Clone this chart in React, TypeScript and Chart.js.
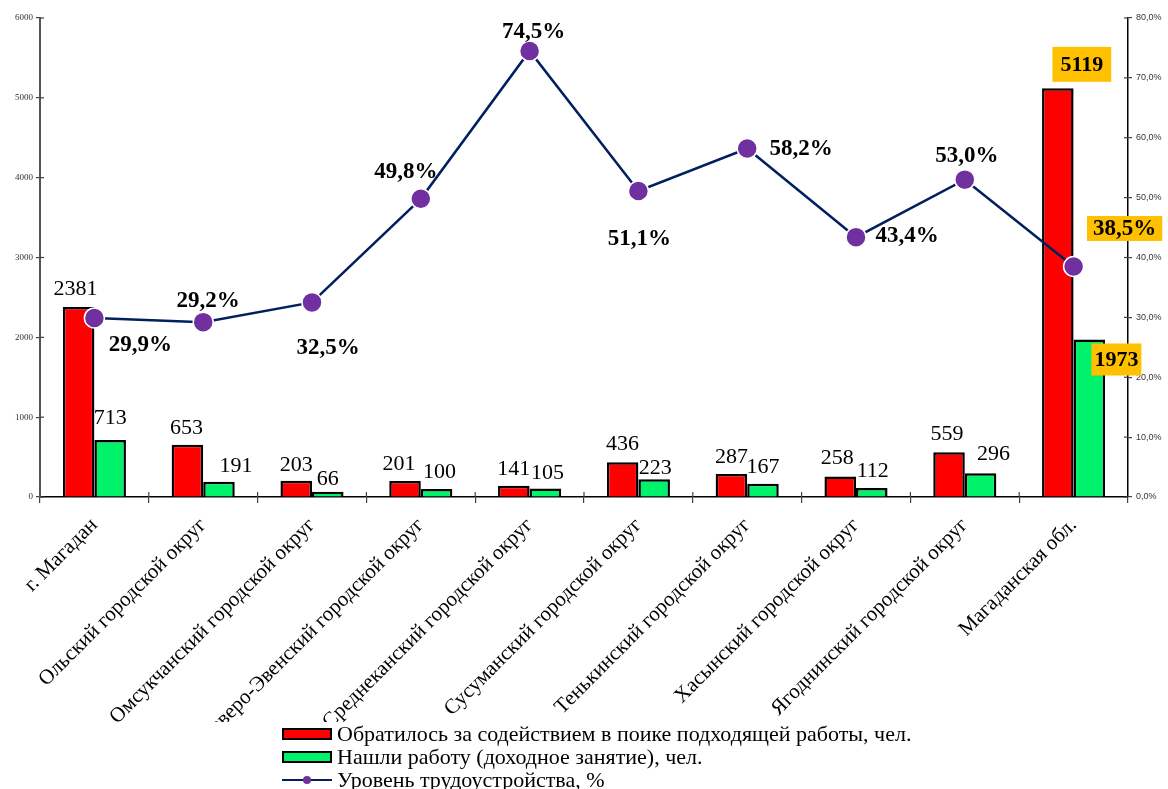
import React, { useEffect, useRef } from "react";
import { Chart, registerables } from "chart.js";

Chart.register(...registerables);

const categories = [
  "г. Магадан",
  "Ольский городской округ",
  "Омсукчанский городской округ",
  "Северо-Эвенский городской округ",
  "Среднеканский городской округ",
  "Сусуманский городской округ",
  "Тенькинский городской округ",
  "Хасынский городской округ",
  "Ягоднинский городской округ",
  "Магаданская обл.",
];

const applied = [2381, 653, 203, 201, 141, 436, 287, 258, 559, 5119];
const employed = [713, 191, 66, 100, 105, 223, 167, 112, 296, 1973];
const rate = [29.9, 29.2, 32.5, 49.8, 74.5, 51.1, 58.2, 43.4, 53.0, 38.5];

const leftTicksMax = 6000;
const rightTicksMax = 80;

const seriesNames = [
  "Обратилось за содействием в поике подходящей работы, чел.",
  "Нашли работу (доходное занятие), чел.",
  "Уровень трудоустройства, %",
];

// label placement (styling): [dx, dy] from the mark
const appliedLabelOffsets = [
  [-3, -19], [-1, -18], [0, -17], [-6, -18], [0, -18], [0, -19], [0, -18], [-3, -19], [-2, -19], [24, -24],
];
const employedLabelOffsets = [
  [0, -23], [17, -17], [0, -14], [3, -18], [2, -16], [1, -12], [0, -17], [1, -18], [13, -20], [27, 20],
];
const rateLabelOffsets = [
  [46, 26], [5, -22], [16, 45], [-15, -28], [4, -20], [1, 47], [54, 0], [51, -2], [2, -25], [51, -38],
];
const highlightIndex = 9;

const RED = "#FF0000";
const GREEN = "#00F26B";
const LINE = "#002060";
const DOT = "#7030A0";
const HIGHLIGHT = "#FFC000";
const SERIF = '"Liberation Serif", "Times New Roman", serif';

const fmtPct = (v: number) => v.toFixed(1).replace(".", ",") + "%";

const labelsPlugin = {
  id: "valueLabels",
  afterDraw(chart: any) {
    const ctx = chart.ctx as CanvasRenderingContext2D;
    ctx.save();
    ctx.textAlign = "center";
    ctx.textBaseline = "middle";

    // inner half of tick marks (ticks cross the axes)
    ctx.strokeStyle = "#404040";
    ctx.lineWidth = 1.2;
    const y = chart.scales.y;
    const y1 = chart.scales.y1;
    const area = chart.chartArea;
    y.ticks.forEach((_t: any, i: number) => {
      const py = y.getPixelForTick(i);
      ctx.beginPath();
      ctx.moveTo(area.left, py);
      ctx.lineTo(area.left + 4, py);
      ctx.stroke();
    });
    y1.ticks.forEach((_t: any, i: number) => {
      const py = y1.getPixelForTick(i);
      ctx.beginPath();
      ctx.moveTo(area.right - 4, py);
      ctx.lineTo(area.right, py);
      ctx.stroke();
    });
    const step = (area.right - area.left) / categories.length;
    for (let k = 1; k < categories.length; k++) {
      const px = area.left + k * step;
      ctx.beginPath();
      ctx.moveTo(px, area.bottom - 5);
      ctx.lineTo(px, area.bottom);
      ctx.stroke();
    }

    const drawBox = (cx: number, cy: number, w: number, h: number) => {
      ctx.fillStyle = HIGHLIGHT;
      ctx.fillRect(cx - w / 2, cy - h / 2, w, h);
    };

    // bar labels
    const barSets: [number, number[], number[][]][] = [
      [0, applied, appliedLabelOffsets],
      [1, employed, employedLabelOffsets],
    ];
    barSets.forEach(([di, vals, offs]) => {
      const meta = chart.getDatasetMeta(di);
      meta.data.forEach((el: any, i: number) => {
        const cx = el.x + offs[i][0];
        const cy = el.y + offs[i][1];
        const text = String(vals[i]);
        if (i === highlightIndex) {
          ctx.font = `bold 22px ${SERIF}`;
          const w = ctx.measureText(text).width;
          drawBox(cx, cy, w + (di === 0 ? 16 : 6), di === 0 ? 35 : 32);
        } else {
          ctx.font = `22px ${SERIF}`;
        }
        ctx.fillStyle = "#000";
        ctx.fillText(text, cx, cy + 1);
      });
    });

    // rate labels
    const lmeta = chart.getDatasetMeta(2);
    lmeta.data.forEach((el: any, i: number) => {
      const cx = el.x + rateLabelOffsets[i][0];
      const cy = el.y + rateLabelOffsets[i][1];
      const text = fmtPct(rate[i]);
      ctx.font = `bold 23px ${SERIF}`;
      if (i === highlightIndex) {
        const w = ctx.measureText(text).width;
        drawBox(cx, cy, w + 12, 25);
      }
      ctx.fillStyle = "#000";
      ctx.fillText(text, cx, cy + 1);
    });
    ctx.restore();
  },
};

export default function App() {
  const ref = useRef<HTMLCanvasElement | null>(null);

  useEffect(() => {
    if (!ref.current) return;
    const chart = new Chart(ref.current, {
      type: "bar",
      data: {
        labels: categories,
        datasets: [
          {
            type: "bar",
            label: seriesNames[0],
            data: applied,
            backgroundColor: RED,
            borderColor: "#000",
            borderWidth: 2.5,
            borderSkipped: "bottom",
            yAxisID: "y",
            order: 2,
            categoryPercentage: 0.58,
            barPercentage: 1,
          },
          {
            type: "bar",
            label: seriesNames[1],
            data: employed,
            backgroundColor: GREEN,
            borderColor: "#000",
            borderWidth: 2.5,
            borderSkipped: "bottom",
            yAxisID: "y",
            order: 2,
            categoryPercentage: 0.58,
            barPercentage: 1,
          },
          {
            type: "line",
            label: seriesNames[2],
            data: rate,
            borderColor: LINE,
            borderWidth: 2.5,
            pointRadius: 10,
            pointHoverRadius: 10,
            pointBackgroundColor: DOT,
            pointBorderColor: "#fff",
            pointBorderWidth: 1.5,
            yAxisID: "y1",
            order: 0,
            tension: 0,
          } as any,
        ],
      },
      options: {
        animation: false,
        responsive: false,
        maintainAspectRatio: false,
        layout: { padding: { top: 18, left: 0, right: 0, bottom: 0 } },
        plugins: {
          legend: { display: false },
          tooltip: { enabled: false },
        },
        scales: {
          x: {
            offset: true,
            grid: {
              display: true,
              drawOnChartArea: false,
              drawTicks: true,
              tickLength: 6,
              color: "#404040",
              lineWidth: 1.2,
              offset: true,
            },
            border: { display: true, color: "#000", width: 1.5 },
            ticks: {
              autoSkip: false,
              maxRotation: 45,
              minRotation: 45,
              padding: 10,
              color: "#000",
              font: { family: SERIF, size: 21 },
            },
            afterFit(scale: any) {
              scale.height = 225;
            },
          },
          y: {
            position: "left",
            min: 0,
            max: leftTicksMax,
            grid: {
              display: true,
              drawOnChartArea: false,
              drawTicks: true,
              tickLength: 4,
              color: "#404040",
              lineWidth: 1.2,
            },
            border: { display: true, color: "#555", width: 2 },
            ticks: {
              stepSize: 1000,
              padding: 3,
              color: "#333",
              font: { family: SERIF, size: 9 },
              callback: (v: any) => String(v),
            },
            afterFit(scale: any) {
              scale.width = 40;
            },
          },
          y1: {
            position: "right",
            min: 0,
            max: rightTicksMax,
            grid: {
              display: true,
              drawOnChartArea: false,
              drawTicks: true,
              tickLength: 4,
              color: "#404040",
              lineWidth: 1.2,
            },
            border: { display: true, color: "#000", width: 1.5 },
            ticks: {
              stepSize: 10,
              padding: 4,
              color: "#333",
              font: { family: '"Liberation Sans", Arial, sans-serif', size: 9 },
              callback: (v: any) => fmtPct(Number(v)),
            },
            afterFit(scale: any) {
              scale.width = 40;
            },
          },
        },
      },
      plugins: [labelsPlugin],
    } as any);
    return () => chart.destroy();
  }, []);

  const rowStyle: React.CSSProperties = {
    display: "flex",
    alignItems: "center",
    height: 23,
    whiteSpace: "nowrap",
  };
  const swatch = (color: string): React.CSSProperties => ({
    width: 50,
    height: 12,
    boxSizing: "border-box",
    border: "2.5px solid #000",
    background: color,
    marginRight: 5,
    flex: "none",
  });

  return (
    <div
      style={{
        position: "fixed",
        left: 0,
        top: 0,
        width: 1168,
        height: 789,
        background: "#fff",
        overflow: "hidden",
      }}
    >
      <canvas ref={ref} width={1168} height={722} style={{ display: "block", width: 1168, height: 722 }} />
      <div
        style={{
          position: "absolute",
          left: 282,
          top: 722,
          fontFamily: SERIF,
          fontSize: 22,
          color: "#000",
          lineHeight: "23px",
        }}
      >
        <div style={rowStyle}>
          <span style={swatch(RED)} />
          <span>{seriesNames[0]}</span>
        </div>
        <div style={rowStyle}>
          <span style={swatch(GREEN)} />
          <span>{seriesNames[1]}</span>
        </div>
        <div style={rowStyle}>
          <span
            style={{
              position: "relative",
              width: 50,
              height: 12,
              marginRight: 5,
              flex: "none",
              display: "inline-block",
            }}
          >
            <span
              style={{
                position: "absolute",
                left: 0,
                right: 0,
                top: 5,
                height: 2.5,
                background: LINE,
              }}
            />
            <span
              style={{
                position: "absolute",
                left: 21,
                top: 2,
                width: 8,
                height: 8,
                borderRadius: "50%",
                background: DOT,
              }}
            />
          </span>
          <span>{seriesNames[2]}</span>
        </div>
      </div>
    </div>
  );
}
